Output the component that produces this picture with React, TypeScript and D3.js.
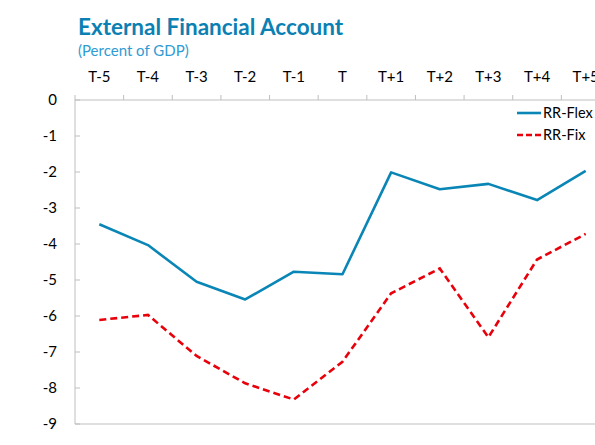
import React, { useEffect, useRef } from "react";
import * as d3 from "d3";

const categories = ["T-5", "T-4", "T-3", "T-2", "T-1", "T", "T+1", "T+2", "T+3", "T+4", "T+5"];
const rrFlex = [-3.45, -4.03, -5.05, -5.54, -4.77, -4.84, -2.01, -2.48, -2.33, -2.78, -1.97];
const rrFix = [-6.11, -5.97, -7.11, -7.87, -8.32, -7.27, -5.37, -4.68, -6.59, -4.43, -3.72];
const yTicks = [0, -1, -2, -3, -4, -5, -6, -7, -8, -9];
const seriesNames = ["RR-Flex", "RR-Fix"];

const W = 595;
const H = 445;
const FONT = "Lato, 'Open Sans', sans-serif";

export default function App() {
  const ref = useRef<SVGSVGElement>(null);

  useEffect(() => {
    const svg = d3.select(ref.current);
    svg.selectAll("*").remove();

    const left = 75, top = 100, right = 610, bottom = 424;
    const x = d3.scaleBand<string>().domain(categories).range([left, right]).paddingInner(0).paddingOuter(0);
    const y = d3.scaleLinear().domain([-9, 0]).range([bottom, top]);
    const gray = "#bfbfbf";

    // title
    svg.append("text").attr("x", 78).attr("y", 35).attr("font-family", FONT).attr("font-weight", 700)
      .attr("font-size", 22.5).attr("fill", "#0b80b3").text("External Financial Account");
    svg.append("text").attr("x", 78).attr("y", 55.5).attr("font-family", FONT)
      .attr("font-size", 15).attr("fill", "#2f9bd3").text("(Percent of GDP)");

    // plot frame: left and bottom
    svg.append("line").attr("x1", left).attr("x2", left).attr("y1", top).attr("y2", bottom).attr("stroke", gray).attr("stroke-width", 1);
    svg.append("line").attr("x1", left).attr("x2", right).attr("y1", bottom).attr("y2", bottom).attr("stroke", gray).attr("stroke-width", 1);

    // top x-axis at y=0
    svg.append("line").attr("x1", left).attr("x2", right).attr("y1", y(0)).attr("y2", y(0)).attr("stroke", gray).attr("stroke-width", 1);
    const bounds = categories.map((c) => x(c)!).concat([right]);
    svg.selectAll("line.xt").data(bounds).enter().append("line")
      .attr("x1", (d) => d).attr("x2", (d) => d).attr("y1", y(0) - 5).attr("y2", y(0))
      .attr("stroke", gray).attr("stroke-width", 1);
    svg.selectAll("text.xl").data(categories).enter().append("text")
      .attr("x", (d) => x(d)! + x.bandwidth() / 2).attr("y", 82)
      .attr("text-anchor", "middle").attr("font-family", FONT).attr("font-size", 15).attr("fill", "#000")
      .text((d) => d);

    // y ticks and labels
    svg.selectAll("line.yt").data(yTicks).enter().append("line")
      .attr("x1", left).attr("x2", left + 5).attr("y1", (d) => y(d)).attr("y2", (d) => y(d))
      .attr("stroke", gray).attr("stroke-width", 1);
    svg.selectAll("text.yl").data(yTicks).enter().append("text")
      .attr("x", 57).attr("y", (d) => y(d) + 5).attr("text-anchor", "end")
      .attr("font-family", FONT).attr("font-size", 15).attr("fill", "#000")
      .text((d) => String(d));

    const line = d3.line<number>().x((_, i) => x(categories[i])! + x.bandwidth() / 2).y((d) => y(d));

    svg.append("path").attr("d", line(rrFix)!).attr("fill", "none").attr("stroke", "#e8000b")
      .attr("stroke-width", 2.6).attr("stroke-dasharray", "7,4");
    svg.append("path").attr("d", line(rrFlex)!).attr("fill", "none").attr("stroke", "#0a86b6")
      .attr("stroke-width", 2.6).attr("stroke-linejoin", "round");

    // legend
    const legend = [
      { name: seriesNames[0], color: "#0a86b6", dash: null as string | null, yy: 113 },
      { name: seriesNames[1], color: "#e8000b", dash: "6,3", yy: 135 },
    ];
    legend.forEach((l) => {
      const ln = svg.append("line").attr("x1", 517).attr("x2", 541).attr("y1", l.yy).attr("y2", l.yy)
        .attr("stroke", l.color).attr("stroke-width", 2.6);
      if (l.dash) ln.attr("stroke-dasharray", l.dash);
      svg.append("text").attr("x", 543).attr("y", l.yy + 5).attr("font-family", FONT).attr("font-size", 14.5)
        .attr("fill", "#000").text(l.name);
    });
  }, []);

  return (
    <div style={{ position: "absolute", left: 0, top: 0 }}>
      <svg ref={ref} width={W} height={H} style={{ display: "block", background: "#fff" }} />
    </div>
  );
}
